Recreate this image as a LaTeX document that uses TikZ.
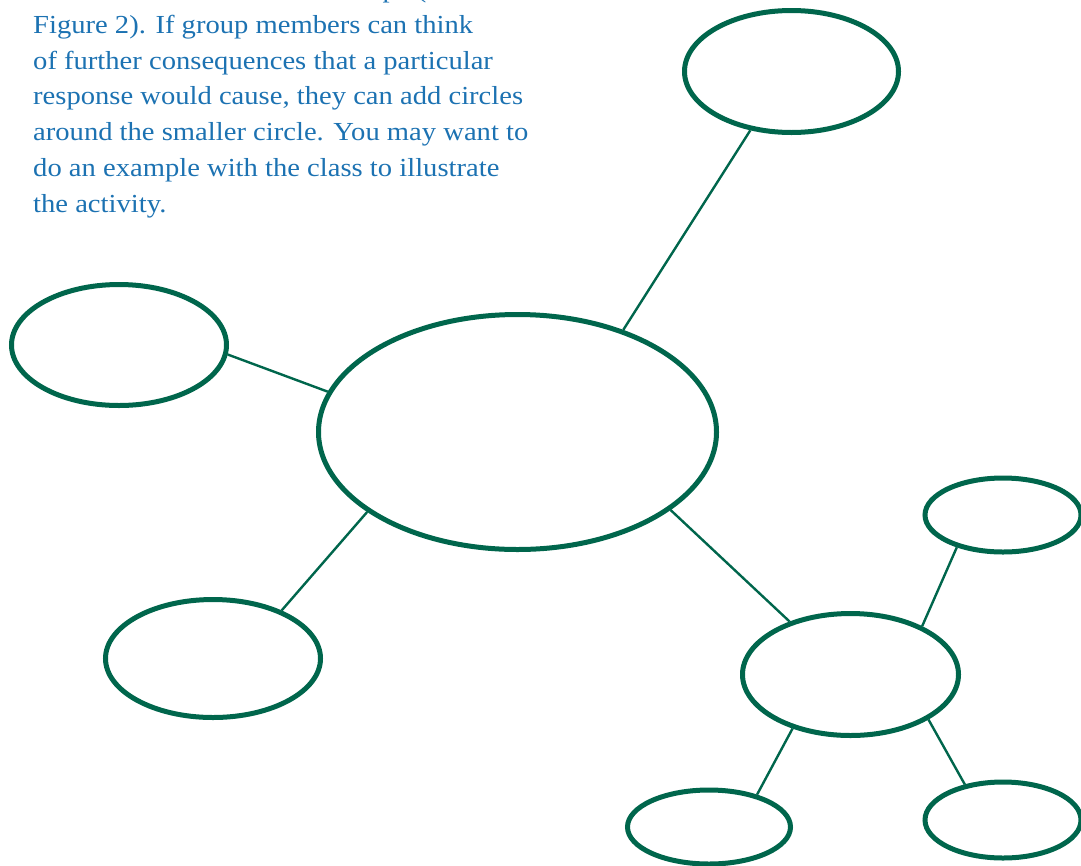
\documentclass[tikz,border=0pt]{standalone}
\usepackage{fontspec}
\setmainfont[FakeStretch=1.1]{Liberation Serif}
\usetikzlibrary{shapes.geometric}
\definecolor{mapgreen}{RGB}{0,102,76}
\definecolor{textblue}{RGB}{28,114,178}
\tikzset{
  bub/.style={ellipse, draw=mapgreen, line width=5pt, inner sep=0pt},
  link/.style={draw=mapgreen, line width=2.4pt},
  txt/.style={anchor=base west, inner sep=0pt, text=textblue, font=\fontsize{26}{30}\selectfont},
}
\begin{document}
\begin{tikzpicture}[x=1pt,y=-1pt]
\useasboundingbox (0,0) rectangle (1081,865);
\clip (0,0) rectangle (1081,865);
% text
\node[txt] (t0) at (33,-3) {the central item as a “mind map” (see};
\node[txt] (t1) at (33,33) {Figure 2). If group members can think};
\node[txt] (t2) at (33,69) {of further consequences that a particular};
\node[txt] (t3) at (33,104) {response would cause, they can add circles};
\node[txt] (t4) at (33,140) {around the smaller circle. You may want to};
\node[txt] (t5) at (33,176) {do an example with the class to illustrate};
\node[txt] (t6) at (33,212) {the activity.};
% bubbles
\node[bub, minimum width=214pt, minimum height=122pt] (top) at (791.5,71.5) {};
\node[bub, minimum width=215pt, minimum height=121pt] (left) at (119,345) {};
\node[bub, minimum width=398pt, minimum height=235pt] (mid) at (517.5,432) {};
\node[bub, minimum width=215pt, minimum height=118pt] (bl) at (213,658.5) {};
\node[bub, minimum width=216pt, minimum height=122pt] (rm) at (850.5,674.5) {};
\node[bub, minimum width=156pt, minimum height=74pt] (ur) at (1003,515) {};
\node[bub, minimum width=163pt, minimum height=74pt] (sbl) at (709,827) {};
\node[bub, minimum width=156pt, minimum height=76pt] (sbr) at (1003,820) {};
% links
\draw[link] (top.235) -- (mid.44);
\draw[link] (left.355) -- (mid.168.6);
\draw[link] (mid.208.6) -- (bl.35.3);
\draw[link] (mid.333) -- (rm.139.5);
\draw[link] (rm.34.5) -- (ur.215.3);
\draw[link] (rm.223.5) -- (sbl.34.2);
\draw[link] (rm.330.2) -- (sbr.137.4);
\end{tikzpicture}
\end{document}
